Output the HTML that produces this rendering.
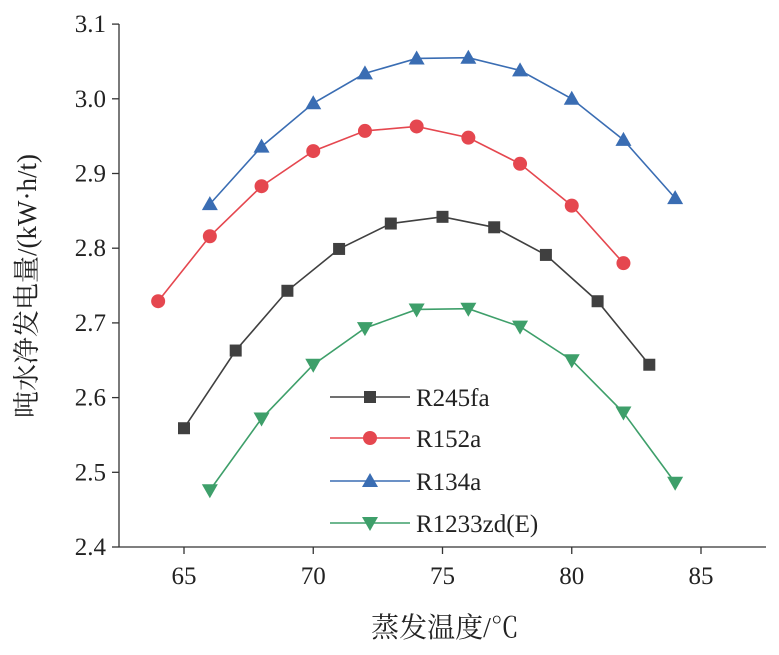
<!DOCTYPE html>
<html><head><meta charset="utf-8"><style>
body{margin:0;background:#fff}
svg text{font-family:"Liberation Serif","Noto Serif CJK SC",serif;fill:#222}
</style></head><body>
<svg id="s" width="779" height="650" xmlns="http://www.w3.org/2000/svg"></svg>
<script>
const s=document.getElementById('s');
const X=v=>184+(v-65)*25.85, Y=v=>547-(v-2.4)*747;
let h='';
h+='<line x1="119" y1="24" x2="119" y2="547" stroke="#333" stroke-width="1.3"/>';
h+='<line x1="119" y1="547" x2="766" y2="547" stroke="#333" stroke-width="1.3"/>';
for(let i=0;i<=7;i++){let v=2.4+i*0.1,y=Y(v);h+=`<line x1="112" y1="${y}" x2="119" y2="${y}" stroke="#333" stroke-width="1.3"/><text x="106" y="${y+8}" font-size="25" text-anchor="end">${v.toFixed(1)}</text>`;}
for(let v=65;v<=85;v+=5){let x=X(v);h+=`<line x1="${x}" y1="547" x2="${x}" y2="554" stroke="#333" stroke-width="1.3"/><text x="${x}" y="584" font-size="25" text-anchor="middle">${v}</text>`;}
h+='<text x="445" y="637" font-size="28" text-anchor="middle">蒸发温度/℃</text>';
h+='<text transform="translate(36,286) rotate(-90)" font-size="27" text-anchor="middle">吨水净发电量/(kW·h/t)</text>';
const S=[
{n:'R245fa',c:'#404040',m:'sq',d:[[65,2.559],[67,2.663],[69,2.743],[71,2.799],[73,2.833],[75,2.842],[77,2.828],[79,2.791],[81,2.729],[83,2.644]]},
{n:'R152a',c:'#e5474f',m:'ci',d:[[64,2.729],[66,2.816],[68,2.883],[70,2.930],[72,2.957],[74,2.963],[76,2.948],[78,2.913],[80,2.857],[82,2.780]]},
{n:'R134a',c:'#3a6db3',m:'up',d:[[66,2.859],[68,2.936],[70,2.994],[72,3.034],[74,3.054],[76,3.055],[78,3.038],[80,3.000],[82,2.945],[84,2.867]]},
{n:'R1233zd(E)',c:'#3e9f6a',m:'dn',d:[[66,2.476],[68,2.572],[70,2.644],[72,2.693],[74,2.718],[76,2.719],[78,2.695],[80,2.650],[82,2.580],[84,2.486]]}];
function mk(m,x,y,c){
 if(m=='sq')return `<rect x="${x-6}" y="${y-6}" width="12" height="12" fill="${c}"/>`;
 if(m=='ci')return `<circle cx="${x}" cy="${y}" r="7" fill="${c}"/>`;
 if(m=='up')return `<polygon points="${x},${y-8} ${x-8},${y+6} ${x+8},${y+6}" fill="${c}"/>`;
 return `<polygon points="${x},${y+8} ${x-8},${y-6} ${x+8},${y-6}" fill="${c}"/>`;
}
const LY=[397,438,481,523];
S.forEach((o,i)=>{
 let pts=o.d.map(p=>X(p[0])+','+Y(p[1])).join(' ');
 h+=`<polyline points="${pts}" fill="none" stroke="${o.c}" stroke-width="1.6"/>`;
 o.d.forEach(p=>h+=mk(o.m,X(p[0]),Y(p[1]),o.c));
 let y=LY[i];
 h+=`<line x1="330" y1="${y}" x2="410" y2="${y}" stroke="${o.c}" stroke-width="1.6"/>`+mk(o.m,370,y,o.c);
 h+=`<text x="416" y="${y+9}" font-size="25">${o.n}</text>`;
});
s.innerHTML=h;
</script>
</body></html>
